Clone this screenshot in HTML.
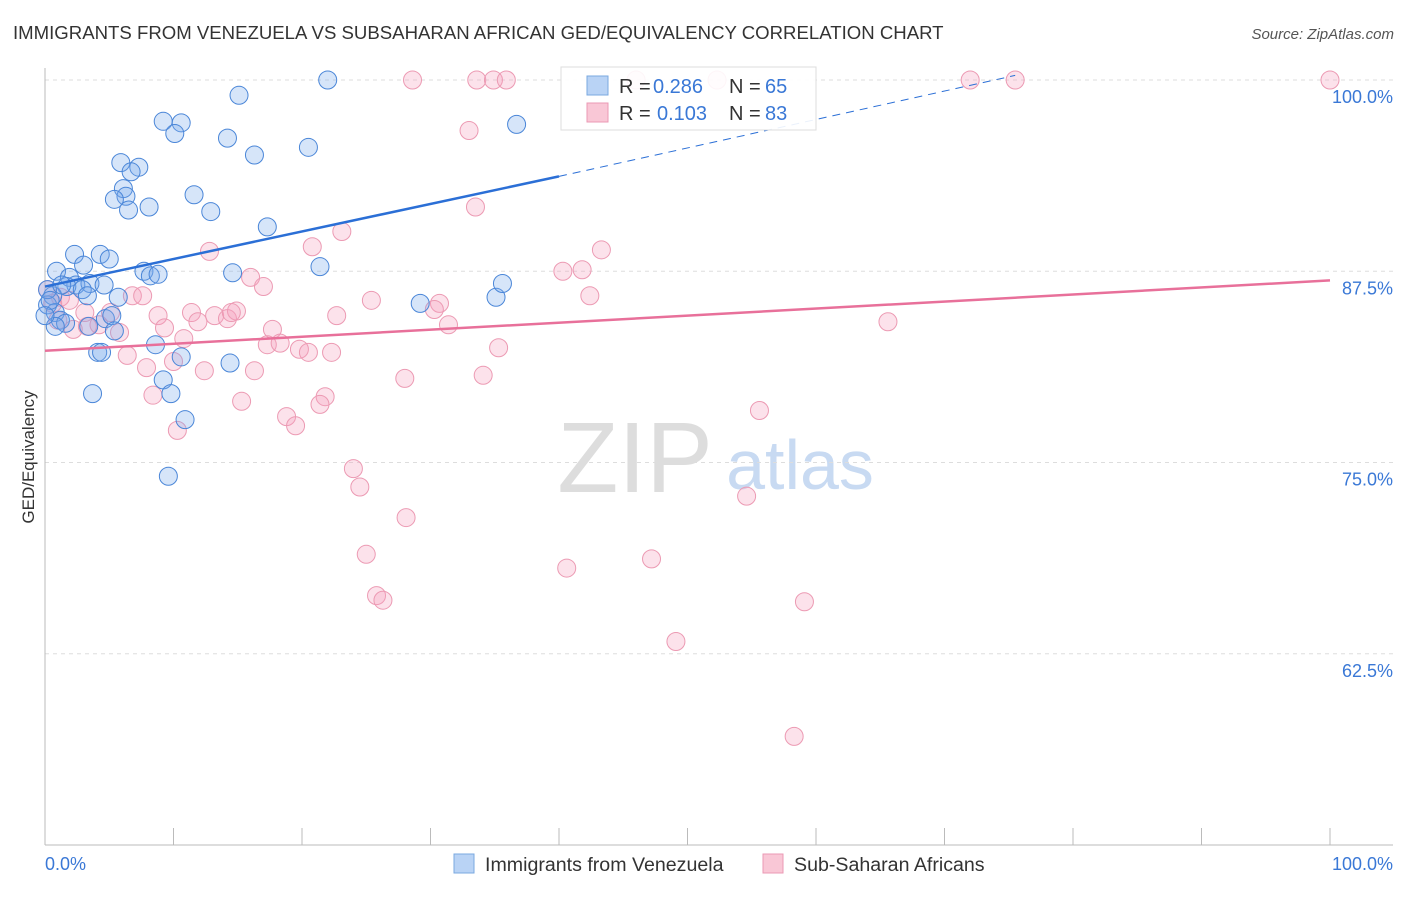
<!DOCTYPE html>
<html><head><meta charset="utf-8"><style>
body{margin:0;background:#fff;font-family:"Liberation Sans",sans-serif}
svg text{font-family:"Liberation Sans",sans-serif}
</style></head><body>
<svg id="chart" width="1406" height="892" viewBox="0 0 1406 892" xmlns="http://www.w3.org/2000/svg">
<text x="13" y="39" font-size="18.6" fill="#333">IMMIGRANTS FROM VENEZUELA VS SUBSAHARAN AFRICAN GED/EQUIVALENCY CORRELATION CHART</text>
<text x="1394" y="39" font-size="15" fill="#555" text-anchor="end" font-style="italic">Source: ZipAtlas.com</text>
<g>
<text x="635" y="492" font-size="100" fill="#ddd" text-anchor="middle" font-family="Liberation Serif, serif">ZIP</text>
<text x="800" y="489" font-size="70" fill="#c8daf2" text-anchor="middle">atlas</text>
</g>
<g id="grid"></g>
<g id="axes"></g>
<g id="marks"></g>
<g id="lines"></g>
<text transform="translate(34,457) rotate(-90)" font-size="17" fill="#333" text-anchor="middle">GED/Equivalency</text>
<g>
<rect x="561" y="67" width="255" height="63" fill="#fff" fill-opacity="0.9" stroke="#ddd"/>
<rect x="587" y="76" width="21" height="19" fill="#b9d3f5" stroke="#7aa8e0"/>
<rect x="587" y="103" width="21" height="19" fill="#f9c7d6" stroke="#eb9ab4"/>
<text x="619" y="93" font-size="20" fill="#333">R =</text>
<text x="653" y="93" font-size="20" fill="#3a78d6">0.286</text>
<text x="729" y="93" font-size="20" fill="#333">N =</text>
<text x="765" y="93" font-size="20" fill="#3a78d6">65</text>
<text x="619" y="120" font-size="20" fill="#333">R =</text>
<text x="657" y="120" font-size="20" fill="#3a78d6">0.103</text>
<text x="729" y="120" font-size="20" fill="#333">N =</text>
<text x="765" y="120" font-size="20" fill="#3a78d6">83</text>
</g>
<g>
<rect x="454" y="854" width="20" height="19" fill="#b9d3f5" stroke="#7aa8e0"/>
<text x="485" y="871" font-size="19.6" fill="#333">Immigrants from Venezuela</text>
<rect x="763" y="854" width="20" height="19" fill="#f9c7d6" stroke="#eb9ab4"/>
<text x="794" y="871" font-size="19.6" fill="#333">Sub-Saharan Africans</text>
</g>
</svg>
<script>
const yTicks=[100,87.5,75,62.5];
const yTickLabels=["100.0%","87.5%","75.0%","62.5%"];
const xTickLabels=["0.0%","100.0%"];
const blueX=[22.0,15.1,9.2,10.6,10.1,14.2,20.5,16.3,36.7,5.9,7.3,6.7,6.1,6.3,5.4,6.5,8.1,11.6,12.9,17.3,2.3,4.3,5.0,3.0,0.9,1.9,7.7,8.2,8.8,14.6,21.4,2.4,3.5,4.6,1.7,2.9,3.3,0.6,5.7,0.2,29.2,35.1,35.6,0.8,1.2,1.6,0.8,4.7,5.2,3.4,5.4,8.6,4.1,4.4,10.6,14.4,9.2,9.8,3.7,10.9,9.6,0.2,0.4,1.3,0.0];
const blueY=[100,99.0,97.3,97.2,96.5,96.2,95.6,95.1,97.1,94.6,94.3,94.0,92.9,92.4,92.2,91.5,91.7,92.5,91.4,90.4,88.6,88.6,88.3,87.9,87.5,87.1,87.5,87.2,87.3,87.4,87.8,86.6,86.7,86.6,86.5,86.3,85.9,85.9,85.8,85.3,85.4,85.8,86.7,84.8,84.3,84.1,83.9,84.4,84.6,83.9,83.6,82.7,82.2,82.2,81.9,81.5,80.4,79.5,79.5,77.8,74.1,86.3,85.6,86.6,84.6];
const pinkX=[28.6,33.6,34.9,35.9,46.0,52.3,72.0,75.5,100,33.0,33.5,23.1,12.8,20.8,43.3,40.3,41.8,16.0,17.0,42.4,0.2,1.2,1.9,6.8,7.6,25.4,30.7,30.3,11.4,8.8,13.2,14.2,14.9,14.5,11.9,9.3,17.7,22.7,31.4,65.6,1.0,2.2,3.3,4.2,5.8,3.1,5.1,10.8,17.3,18.3,19.8,20.5,22.3,35.3,6.4,10.0,7.9,12.4,16.3,28.0,34.1,8.4,15.3,21.8,21.4,18.8,19.5,10.3,55.6,24.0,24.5,54.6,28.1,25.0,40.6,47.2,25.8,26.3,59.1,49.1,58.3,0.6];
const pinkY=[100,100,100,100,100,100,100,100,100,96.7,91.7,90.1,88.8,89.1,88.9,87.5,87.6,87.1,86.5,85.9,86.3,85.8,85.6,85.9,85.9,85.6,85.4,85.0,84.8,84.6,84.6,84.4,84.9,84.8,84.2,83.8,83.7,84.6,84.0,84.2,84.3,83.7,83.9,84.0,83.5,84.8,84.8,83.1,82.7,82.8,82.4,82.2,82.2,82.5,82.0,81.6,81.2,81.0,81.0,80.5,80.7,79.4,79.0,79.3,78.8,78.0,77.4,77.1,78.4,74.6,73.4,72.8,71.4,69.0,68.1,68.7,66.3,66.0,65.9,63.3,57.1,85.4];
const blueTrendX=[0,40,75.5];
const blueTrendY=[86.5,93.7,100.3];
const pinkTrendX=[0,100];
const pinkTrendY=[82.3,86.9];

const NS="http://www.w3.org/2000/svg";
function sx(v){return 45+v*12.85;}
function sy(v){return 80+(100-v)*15.3;}
function mk(tag,attrs,parent){const e=document.createElementNS(NS,tag);for(const k in attrs)e.setAttribute(k,attrs[k]);parent.appendChild(e);return e;}
const grid=document.getElementById('grid'),axes=document.getElementById('axes'),marks=document.getElementById('marks'),lines=document.getElementById('lines');
yTicks.forEach((t,i)=>{
  const l=mk('line',{x1:45,x2:1393,y1:sy(t),y2:sy(t),stroke:'#ddd','stroke-dasharray':'4,4'},grid);
  
  
  const tx=mk('text',{x:1393,y:sy(t)+23,'font-size':18,fill:'#3a78d6','text-anchor':'end'},grid);
  tx.textContent=yTickLabels[i];
  
  
});
const ax=mk('line',{x1:45,x2:45,y1:68,y2:845,stroke:'#bbb'},axes);


const bx=mk('line',{x1:45,x2:1393,y1:845,y2:845,stroke:'#bbb'},axes);


for(let i=0;i<=10;i++){
  const t=mk('line',{x1:sx(i*10),x2:sx(i*10),y1:828,y2:845,stroke:'#bbb'},axes);
  
  
}
[[0,'start',45],[100,'end',1393]].forEach((d,i)=>{
  const t=mk('text',{x:d[2],y:870,'font-size':18,fill:'#3a78d6','text-anchor':d[1]},axes);
  t.textContent=xTickLabels[i];
  
  
});
pinkX.forEach((x,i)=>{
  const c=mk('circle',{cx:sx(x),cy:sy(pinkY[i]),r:9,fill:'rgba(244,160,188,0.3)',stroke:'#ec9ab3','stroke-width':1},marks);
  
  
});
blueX.forEach((x,i)=>{
  const c=mk('circle',{cx:sx(x),cy:sy(blueY[i]),r:9,fill:'rgba(120,170,235,0.3)',stroke:'#4a86d8','stroke-width':1},marks);
  
  
});
const bl=mk('line',{x1:sx(blueTrendX[0]),y1:sy(blueTrendY[0]),x2:sx(blueTrendX[1]),y2:sy(blueTrendY[1]),stroke:'#2b6fd6','stroke-width':2.5},lines);


const bd=mk('line',{x1:sx(blueTrendX[1]),y1:sy(blueTrendY[1]),x2:sx(blueTrendX[2]),y2:sy(blueTrendY[2]),stroke:'#2b6fd6','stroke-width':1,'stroke-dasharray':'8,6'},lines);


const pl=mk('line',{x1:sx(pinkTrendX[0]),y1:sy(pinkTrendY[0]),x2:sx(pinkTrendX[1]),y2:sy(pinkTrendY[1]),stroke:'#e8709a','stroke-width':2.5},lines);


</script>
</body></html>
